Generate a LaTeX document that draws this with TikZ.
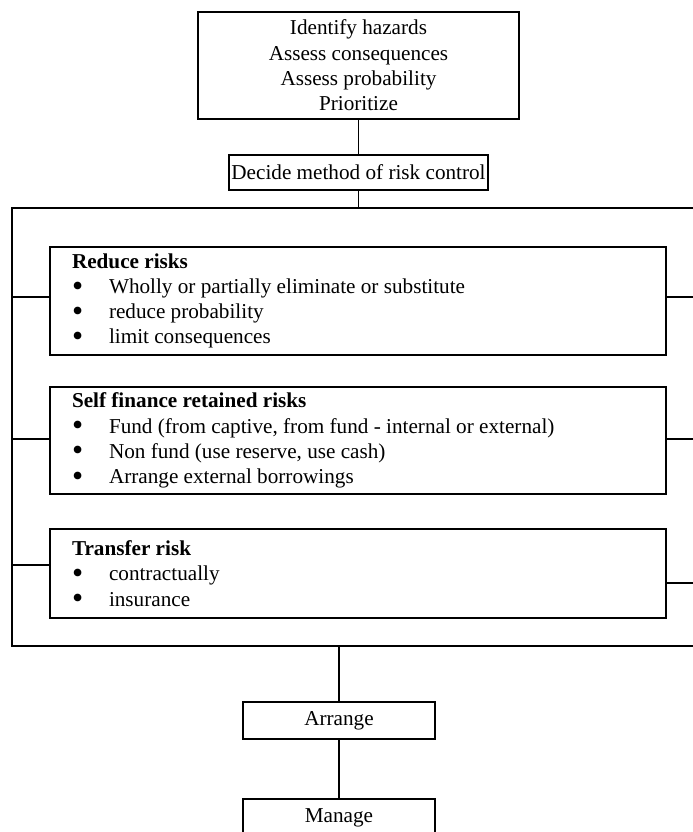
\documentclass[tikz,border=0pt]{standalone}
\usepackage{fontspec}
\setmainfont{Liberation Serif}

\newdimen\px
\px=0.6135pt

\newcommand{\riskitem}[1]{\makebox[37\px][l]{\smash{\raisebox{-0.12em}{\scalebox{1.5}{\textbullet}}}}#1}
\newcommand{\nostretch}{\spaceskip=0pt\relax\xspaceskip=0pt\relax}

\tikzstyle{box} = [
	draw = black,
	rectangle,
	inner sep = 0pt,
	align = center
	]

\tikzstyle{listbox} = [
	draw = black,
	rectangle,
	minimum width = 616\px,
	inner xsep = 22\px,
	inner ysep = 0pt,
	text width = 572\px,
	align = left
	]

\begin{document}
\begin{tikzpicture}[
	x = \px,
	y = -\px,
	line width = 1.1pt,
	every node/.style = {
	font = \fontsize{13}{15.5}\selectfont,
	execute at begin node = \nostretch
	}
	]

			   \clip (0,0) rectangle (693,832);

			   \node[box, minimum width=321\px, minimum height=107\px] (hazards) at (358.5,65.5)
			   {Identify hazards\\Assess consequences\\Assess probability\\Prioritize};
			   \node[box, minimum width=259\px, minimum height=35\px] (decide) at (358.5,172.5)
			   {Decide method of risk control};

			   % outer frame, open on the right
			   \coordinate (frametop) at (358.5,208);
			   \coordinate (framebot) at (339,646);
			   \draw (700,208) -- (12,208) -- (12,646) -- (700,646);

			   \node[listbox, minimum height=108\px] (reduce) at (358,301)
			   {\textbf{Reduce risks}\\
			   \riskitem{Wholly or partially eliminate or substitute}\\
			   \riskitem{reduce probability}\\
			   \riskitem{limit consequences}};
			   \node[listbox, minimum height=107\px] (selffin) at (358,440.5)
			   {\textbf{Self finance retained risks}\\
			   \riskitem{Fund (from captive, from fund - internal or external)}\\
			   \riskitem{Non fund (use reserve, use cash)}\\
			   \riskitem{Arrange external borrowings}};
			   \node[listbox, minimum height=89\px] (transfer) at (358,573.5)
			   {\textbf{Transfer risk}\\
			   \riskitem{contractually}\\
			   \riskitem{insurance}};

			   \node[box, minimum width=192\px, minimum height=37\px] (arrange) at (339,720.5) {Arrange};
			   \node[box, minimum width=192\px, minimum height=37\px] (manage) at (339,817.5) {Manage};

			   \coordinate (l1) at (12,297);
			   \coordinate (r1) at (693,297);
			   \coordinate (l2) at (12,439);
			   \coordinate (r2) at (693,439);
			   \coordinate (l3) at (12,565);
			   \coordinate (r3) at (693,583);

			   \draw (hazards) -- (decide);
			   \draw (decide) -- (frametop);
			   \draw (l1) -- (l1 -| reduce.west);
			   \draw (r1) -- (r1 -| reduce.east);
			   \draw (l2) -- (l2 -| selffin.west);
			   \draw (r2) -- (r2 -| selffin.east);
			   \draw (l3) -- (l3 -| transfer.west);
			   \draw (r3) -- (r3 -| transfer.east);
			   \draw (framebot) -- (arrange);
			   \draw (arrange) -- (manage);
		   \end{tikzpicture}
\end{document}
